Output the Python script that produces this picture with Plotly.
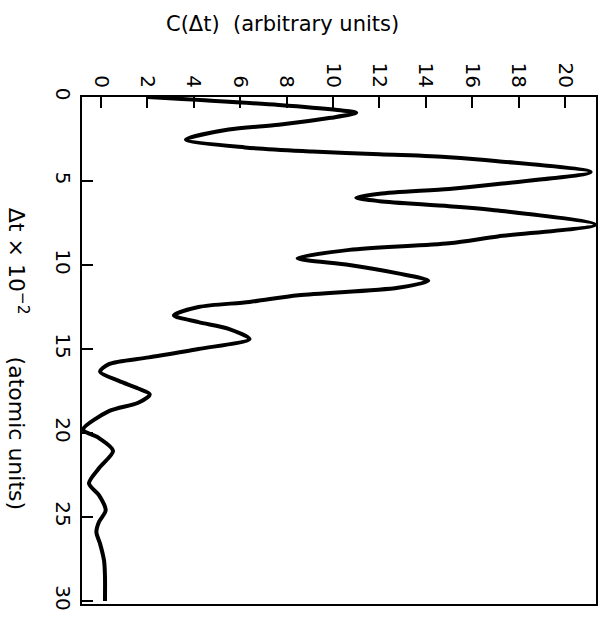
import plotly.graph_objects as go

# Time lag (units of 10^-2 atomic units) and correlation C(dt)
dt = [0.0, 0.47, 0.76, 0.94, 1.24, 1.65, 1.94, 2.53, 3.0, 3.24, 3.41, 3.58, 3.82, 4.47,
      5.18, 5.47, 5.76, 6.0, 6.2, 6.5, 6.76, 7.6, 8.3, 8.7, 9.1, 9.6, 10.0, 10.5, 10.94,
      11.35, 11.8, 12.2, 12.5, 13.0, 13.4, 13.8, 14.4, 15.0, 15.5, 15.9, 16.35,
      16.9, 17.35, 17.7, 18.2, 18.7, 19.8, 20.3, 21.06, 22.1, 23.0, 23.7, 24.6,
      25.3, 25.9, 26.6, 27.6, 28.5, 30.0]
c = [2.0, 7.66, 10.1, 11.0, 9.9, 7.66, 5.5, 3.66, 6.2, 9.1, 12.0, 15.0, 17.1, 21.1,
     17.1, 15.0, 12.0, 11.0, 12.0, 15.0, 17.1, 21.3, 17.1, 15.0, 10.7, 8.47, 10.7, 12.8, 14.1,
     12.8, 8.5, 6.4, 4.2, 3.14, 4.2, 5.5, 6.4, 4.2, 2.06, 0.34, -0.04,
     0.77, 1.6, 2.1, 1.6, 0.34, -0.77, -0.09, 0.52, -0.09, -0.52, -0.09, 0.2,
     -0.09, -0.2, -0.04, 0.13, 0.17, 0.17]

c_ticks = list(range(0, 21, 2))
dt_ticks = [0, 5, 10, 15, 20, 25, 30]

FONT = "DejaVu Sans"

fig = go.Figure()
fig.add_trace(go.Scatter(
    x=c, y=dt, mode="lines",
    line=dict(color="black", width=4, shape="spline", smoothing=0.8),
    hoverinfo="skip", showlegend=False,
))

fig.update_xaxes(
    side="top", range=[-0.82, 21.33],
    tickvals=c_ticks, ticktext=[str(v) for v in c_ticks],
    tickangle=90, ticks="inside", ticklen=11, tickwidth=2, tickcolor="black",
    showline=True, linecolor="black", linewidth=2, mirror=True,
    showgrid=False, zeroline=False,
    tickfont=dict(family=FONT, size=20, color="black"),
)
fig.update_yaxes(
    range=[30.18, 0],
    tickvals=dt_ticks, ticktext=[str(v) for v in dt_ticks],
    tickangle=90, ticks="inside", ticklen=11, tickwidth=2, tickcolor="black",
    showline=True, linecolor="black", linewidth=2, mirror=True,
    showgrid=False, zeroline=False,
    tickfont=dict(family=FONT, size=20, color="black"),
)

fig.add_annotation(
    text="C(\u0394t)  (arbitrary units)", xref="paper", yref="paper",
    x=0.39, y=1.144, showarrow=False, xanchor="center", yanchor="middle",
    font=dict(family=FONT, size=21, color="black"),
)
fig.add_annotation(
    text="\u0394t \u00d7 10<sup>\u22122</sup>      (atomic units)", xref="paper", yref="paper",
    x=-0.124, y=0.483, showarrow=False, textangle=90,
    xanchor="center", yanchor="middle",
    font=dict(family=FONT, size=22, color="black"),
)

fig.update_layout(
    width=610, height=623,
    margin=dict(l=82, r=12, t=97, b=13),
    paper_bgcolor="white", plot_bgcolor="white",
)

fig.write_html("out.html")
